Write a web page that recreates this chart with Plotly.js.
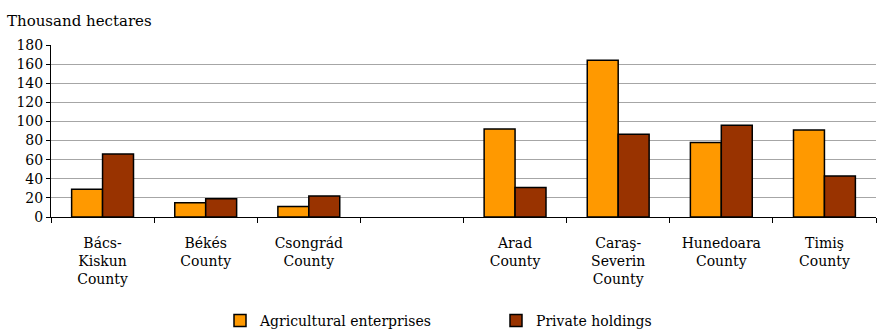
<!DOCTYPE html>
<html><head><meta charset="utf-8">
<script src="https://cdn.plot.ly/plotly-3.0.1.min.js"></script>
<style>body{margin:0;background:#fff}#chart{width:888px;height:330px}</style>
</head><body><div id="chart"></div>
<script>
const categories = ["Bács-<br>Kiskun<br>County", "Békés<br>County", "Csongrád<br>County", " ", "Arad<br>County", "Caraş-<br>Severin<br>County", "Hunedoara<br>County", "Timiş<br>County"];
const agricultural = [29, 15, 11, null, 92, 164, 78, 91];
const privateHoldings = [66, 19, 22, null, 31, 86.5, 96, 43];
const yTicks = [0, 20, 40, 60, 80, 100, 120, 140, 160, 180];
const font = "DejaVu Serif";

const traces = [
  {type: "bar", name: "Agricultural enterprises", x: categories, y: agricultural,
   marker: {color: "#FF9900", line: {color: "#000", width: 1.5}}},
  {type: "bar", name: "Private holdings", x: categories, y: privateHoldings,
   marker: {color: "#993300", line: {color: "#000", width: 1.5}}}
];
const layout = {
  width: 888, height: 330,
  margin: {l: 51, r: 12, t: 45, b: 113},
  paper_bgcolor: "#fff", plot_bgcolor: "#fff",
  font: {family: font, size: 14, color: "#000"},
  barmode: "group", bargap: 0.4, bargroupgap: 0,
  showlegend: true,
  legend: {orientation: "h", xref: "container", yref: "container", x: 220/888, xanchor: "left", y: 9/330, yanchor: "middle",
           entrywidth: 231, entrywidthmode: "pixels", font: {family: font, size: 14},
           itemwidth: 30, tracegroupgap: 0},
  xaxis: {type: "category", showline: true, linecolor: "#000", linewidth: 1,
          ticks: "outside", tickson: "boundaries", ticklen: 5, tickcolor: "#000",
          ticklabelstandoff: 13, tickfont: {family: font, size: 14},
          showgrid: false, fixedrange: true, automargin: false},
  yaxis: {range: [0, 180], tickvals: yTicks, showline: true, linecolor: "#000", linewidth: 1,
          ticks: "outside", ticklen: 4, tickcolor: "#000", tickfont: {family: font, size: 14},
          gridcolor: "#a6a6a6", gridwidth: 1, zeroline: false, fixedrange: true, automargin: false},
  annotations: [{text: "Thousand hectares", xref: "paper", yref: "paper", x: -46/825, y: 1 + 24/172,
                 xanchor: "left", yanchor: "middle", showarrow: false, font: {family: font, size: 15}}]
};
Plotly.newPlot("chart", traces, layout, {displayModeBar: false, staticPlot: true});
</script></body></html>
